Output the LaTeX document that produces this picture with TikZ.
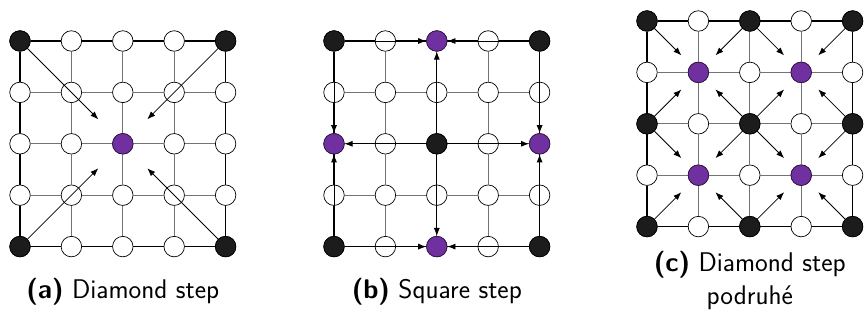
\documentclass[tikz,border=0pt]{standalone}
\usetikzlibrary{arrows.meta,positioning}
\definecolor{sitepurple}{RGB}{112,48,160}
\definecolor{siteblack}{RGB}{28,28,28}
\tikzset{
  gridline/.style={line width=1.3pt},
  site/.style={circle, draw=black, line width=0.7pt, fill=white, minimum size=20.5pt, inner sep=0pt},
  siteknown/.style={site, fill=siteblack},
  sitenew/.style={site, fill=sitepurple, draw=sitepurple!45!black},
  move/.style={-{Latex[length=8pt,width=6pt]}, line width=0.8pt, black},
  caption/.style={font=\fontsize{27}{33}\selectfont\sffamily, align=center, anchor=base}
}
% 5x5 lattice: prefix, x and y of the top left site
\newcommand\latticegrid[3]{%
  \foreach \i in {0,...,4}{
    \foreach \j in {0,...,4}{
      \node[site] (#1-\i-\j) at ({#2+\i*51.4},{#3-\j*51.4}) {};
    }
  }
  \foreach \i in {0,...,3}{
    \foreach \j in {0,...,4}{
      \pgfmathtruncatemacro\k{\i+1}
      \def\edgecol{black!55}
      \ifnum\j=0 \def\edgecol{black}\fi
      \ifnum\j=4 \def\edgecol{black}\fi
      \draw[gridline, draw=\edgecol] (#1-\i-\j) -- (#1-\k-\j);
      \draw[gridline, draw=\edgecol] (#1-\j-\i) -- (#1-\j-\k);
    }
  }
}

\begin{document}
\begin{tikzpicture}[x=1pt,y=1pt]
  \useasboundingbox (0,0) rectangle (864,320);

  % (a) diamond step
  \latticegrid{a}{20}{279}
  \foreach \i/\j in {0/0,4/0,0/4,4/4}
    \node[siteknown] (a-\i-\j) at (a-\i-\j) {};
  \node[sitenew] (a-2-2) at (a-2-2) {};
  \foreach \i/\j in {0/0,4/0,0/4,4/4}
    \draw[move, shorten >=24pt] (a-\i-\j) -- (a-2-2);
  \node[caption] (capa) at (122.8,21.7) {\textbf{(a)} Diamond step};

  % (b) square step
  \latticegrid{b}{334}{279}
  \foreach \i/\j in {0/0,4/0,0/4,4/4,2/2}
    \node[siteknown] (b-\i-\j) at (b-\i-\j) {};
  \foreach \i/\j in {2/0,0/2,4/2,2/4}
    \node[sitenew] (b-\i-\j) at (b-\i-\j) {};
  \foreach \s/\t in {0-0/2-0,4-0/2-0,0-0/0-2,0-4/0-2,4-0/4-2,4-4/4-2,0-4/2-4,4-4/2-4,
                     2-2/2-0,2-2/0-2,2-2/4-2,2-2/2-4}
    \draw[move] (b-\s) -- (b-\t);
  \node[caption] (capb) at (436.8,21.7) {\textbf{(b)} Square step};

  % (c) diamond step, second pass
  \latticegrid{c}{647}{299}
  \foreach \i in {0,2,4}
    \foreach \j in {0,2,4}
      \node[siteknown] (c-\i-\j) at (c-\i-\j) {};
  \foreach \p in {1,3}
    \foreach \q in {1,3}{
      \node[sitenew] (c-\p-\q) at (c-\p-\q) {};
      \foreach \dx in {-1,1}
        \foreach \dy in {-1,1}{
          \pgfmathtruncatemacro\u{\p+\dx}
          \pgfmathtruncatemacro\v{\q+\dy}
          \draw[move, shorten >=13.5pt] (c-\u-\v) -- (c-\p-\q);
        }
    }
  \node[caption] (capc) at (749.8,15) {\textbf{(c)} Diamond step\\podruhé};
\end{tikzpicture}
\end{document}
